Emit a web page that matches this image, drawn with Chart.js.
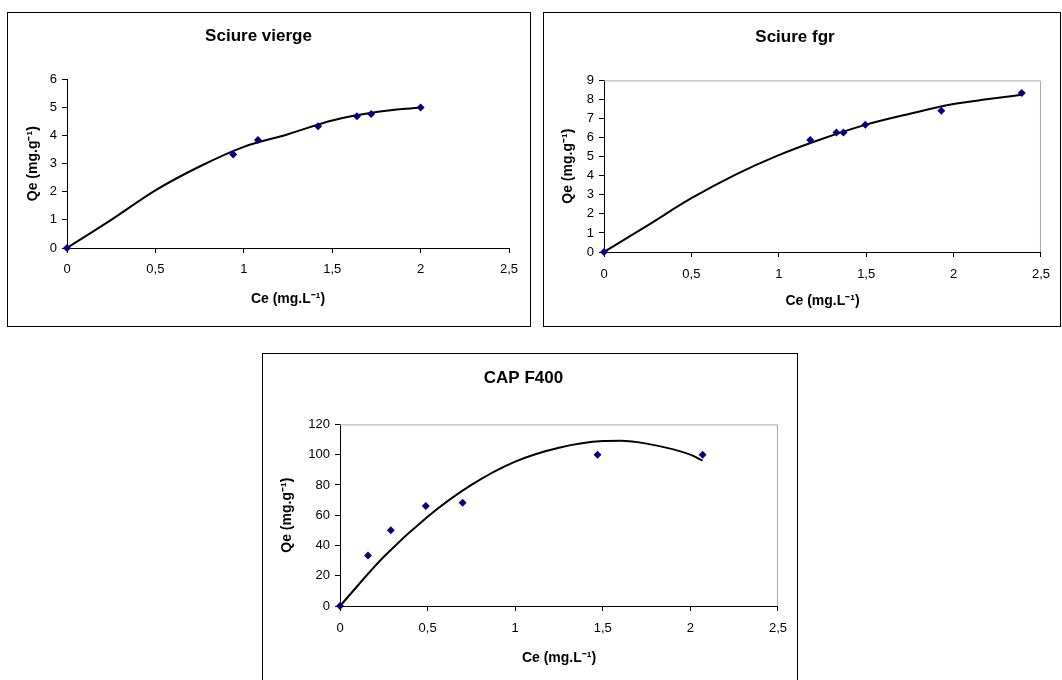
<!DOCTYPE html>
<html>
<head>
<meta charset="utf-8">
<script src="https://cdn.jsdelivr.net/npm/chart.js@4.4.0/dist/chart.umd.min.js"></script>
<style>
    html, body { margin: 0; padding: 0; background: #fff; overflow: hidden; }
    body { width: 1062px; height: 680px; position: relative; }
    .box { position: absolute; box-sizing: border-box; border: 1px solid #000; background: #fff; }
    .box > div { position: relative; width: 100%; height: 100%; }
</style>
</head>
<body>
<div class="box" style="left:7px; top:12px; width:524px; height:315px;"><div><canvas id="chart-vierge"></canvas></div></div>
<div class="box" style="left:543px; top:12px; width:518px; height:315px;"><div><canvas id="chart-fgr"></canvas></div></div>
<div class="box" style="left:262px; top:353px; width:536px; height:332px;"><div><canvas id="chart-cap"></canvas></div></div>
<script>
// ── Data ──

const X_TICK_LABELS = ["0", "0,5", "1", "1,5", "2", "2,5"];

// Sciure vierge
const VIERGE_CE = [0, 0.94, 1.08, 1.42, 1.64, 1.72, 2.0];
const VIERGE_QE = [0, 3.33, 3.84, 4.33, 4.69, 4.77, 5.0];
const VIERGE_FIT_CE = [0, 0.25, 0.5, 0.75, 1, 1.25, 1.5, 1.75, 2];
const VIERGE_FIT_QE = [0, 1.0, 2.05, 2.9, 3.6, 4.05, 4.54, 4.84, 5.0];

// Sciure fgr
const FGR_CE = [0, 1.18, 1.33, 1.37, 1.495, 1.93, 2.39];
const FGR_QE = [0, 5.87, 6.27, 6.27, 6.67, 7.41, 8.34];
const FGR_FIT_CE = [0, 0.25, 0.5, 0.75, 1, 1.25, 1.5, 1.75, 2, 2.2, 2.39];
const FGR_FIT_QE = [0, 1.4, 2.82, 4.05, 5.08, 5.94, 6.68, 7.25, 7.76, 8.02, 8.25];

// CAP F400
const CAP_CE = [0, 0.16, 0.29, 0.49, 0.70, 1.47, 2.07];
const CAP_QE = [0, 33.3, 50, 66, 68.3, 100, 100];
const CAP_FIT_CE = [0, 0.25, 0.5, 0.75, 1, 1.25, 1.5, 1.6, 1.75, 2, 2.07];
const CAP_FIT_QE = [0, 32.5, 59, 80, 95.4, 104.6, 109, 109.2, 107.3, 100, 96];

const FONT = "'Liberation Sans', Arial, sans-serif";
const MARKER = "#000080";

function zipXY(xs, ys) {
    return xs.map((x, i) => ({ x: x, y: ys[i] }));
}

// ── Gray frame around plot area (top/right) ──

const plotFrame = {
    id: "plotFrame",
    beforeDatasetsDraw(chart, args, opts) {
        if (!opts || !opts.color) return;
        const { left, top, right, bottom } = chart.chartArea;
        const ctx = chart.ctx;
        ctx.save();
        ctx.strokeStyle = opts.color;
        ctx.lineWidth = 1;
        ctx.beginPath();
        ctx.moveTo(left, top + 0.5);
        ctx.lineTo(right - 0.5, top + 0.5);
        ctx.lineTo(right - 0.5, bottom);
        ctx.stroke();
        ctx.restore();
    }
};

// ── Chart builder ──

function makeChart(id, cfg) {
    return new Chart(document.getElementById(id), {
        type: "scatter",
        data: {
            datasets: [
                {
                    label: "points",
                    data: zipXY(cfg.ce, cfg.qe),
                    pointStyle: "rectRot",
                    pointRadius: 4,
                    pointBackgroundColor: MARKER,
                    pointBorderColor: MARKER,
                    pointBorderWidth: 0,
                    showLine: false,
                    clip: false,
                },
                {
                    label: "fit",
                    data: zipXY(cfg.fitCe, cfg.fitQe),
                    showLine: true,
                    borderColor: "#000",
                    borderWidth: 2,
                    pointRadius: 0,
                    cubicInterpolationMode: "monotone",
                    fill: false,
                },
            ],
        },
        options: {
            responsive: true,
            maintainAspectRatio: false,
            animation: false,
            events: [],
            layout: { padding: { left: 0, right: cfg.padRight, top: 0, bottom: 8 } },
            plugins: {
                legend: { display: false },
                tooltip: { enabled: false },
                title: {
                    display: true,
                    text: cfg.title,
                    color: "#000",
                    font: { family: FONT, size: 17, weight: "bold" },
                    padding: { top: cfg.titleTop, bottom: cfg.titleBottom },
                },
                plotFrame: { color: cfg.frame },
            },
            scales: {
                x: {
                    type: "linear",
                    min: 0,
                    max: 2.5,
                    afterFit: s => { s.height = cfg.xHeight; },
                    border: { display: true, color: "#000", width: 1 },
                    grid: { drawOnChartArea: false, drawTicks: true, tickLength: 5, tickColor: "#000" },
                    ticks: {
                        stepSize: 0.5,
                        padding: cfg.xTickPad,
                        color: "#000",
                        font: { family: FONT, size: 13 },
                        callback: (v, i) => X_TICK_LABELS[i],
                    },
                    title: {
                        display: true,
                        text: "Ce (mg.L⁻¹)",
                        color: "#000",
                        font: { family: FONT, size: 14, weight: "bold" },
                        padding: { top: 0, bottom: cfg.xTitlePad },
                    },
                },
                y: {
                    type: "linear",
                    min: 0,
                    max: cfg.yMax,
                    afterFit: s => { s.width = cfg.yWidth; },
                    border: { display: true, color: "#000", width: 1 },
                    grid: { drawOnChartArea: false, drawTicks: true, tickLength: 5, tickColor: "#000" },
                    ticks: {
                        stepSize: cfg.yStep,
                        padding: 5,
                        color: "#000",
                        font: { family: FONT, size: 13 },
                    },
                    title: {
                        display: true,
                        text: "Qe (mg.g⁻¹)",
                        color: "#000",
                        font: { family: FONT, size: 14, weight: "bold" },
                        padding: { top: cfg.yTitlePad, bottom: 0 },
                    },
                },
            },
        },
        plugins: [plotFrame],
    });
}

// ── Render ──

makeChart("chart-vierge", {
    title: "Sciure vierge",
    ce: VIERGE_CE, qe: VIERGE_QE, fitCe: VIERGE_FIT_CE, fitQe: VIERGE_FIT_QE,
    yMax: 6, yStep: 1,
    yWidth: 59, xHeight: 70, padRight: 21,
    titleTop: 13, titleBottom: 33,
    xTickPad: 9, xTitlePad: 10,
    yTitlePad: 17,
    frame: null,
});

makeChart("chart-fgr", {
    title: "Sciure fgr",
    ce: FGR_CE, qe: FGR_QE, fitCe: FGR_FIT_CE, fitQe: FGR_FIT_QE,
    yMax: 9, yStep: 1,
    yWidth: 60, xHeight: 66, padRight: 14,
    titleTop: 14, titleBottom: 33,
    xTickPad: 10, xTitlePad: 8,
    yTitlePad: 16,
    frame: "#a8a8a8",
});

makeChart("chart-cap", {
    title: "CAP F400",
    ce: CAP_CE, qe: CAP_QE, fitCe: CAP_FIT_CE, fitQe: CAP_FIT_QE,
    yMax: 120, yStep: 20,
    yWidth: 77, xHeight: 70, padRight: 13,
    titleTop: 14, titleBottom: 36,
    xTickPad: 10, xTitlePad: 9,
    yTitlePad: 16,
    frame: "#a8a8a8",
});
</script>
</body>
</html>
